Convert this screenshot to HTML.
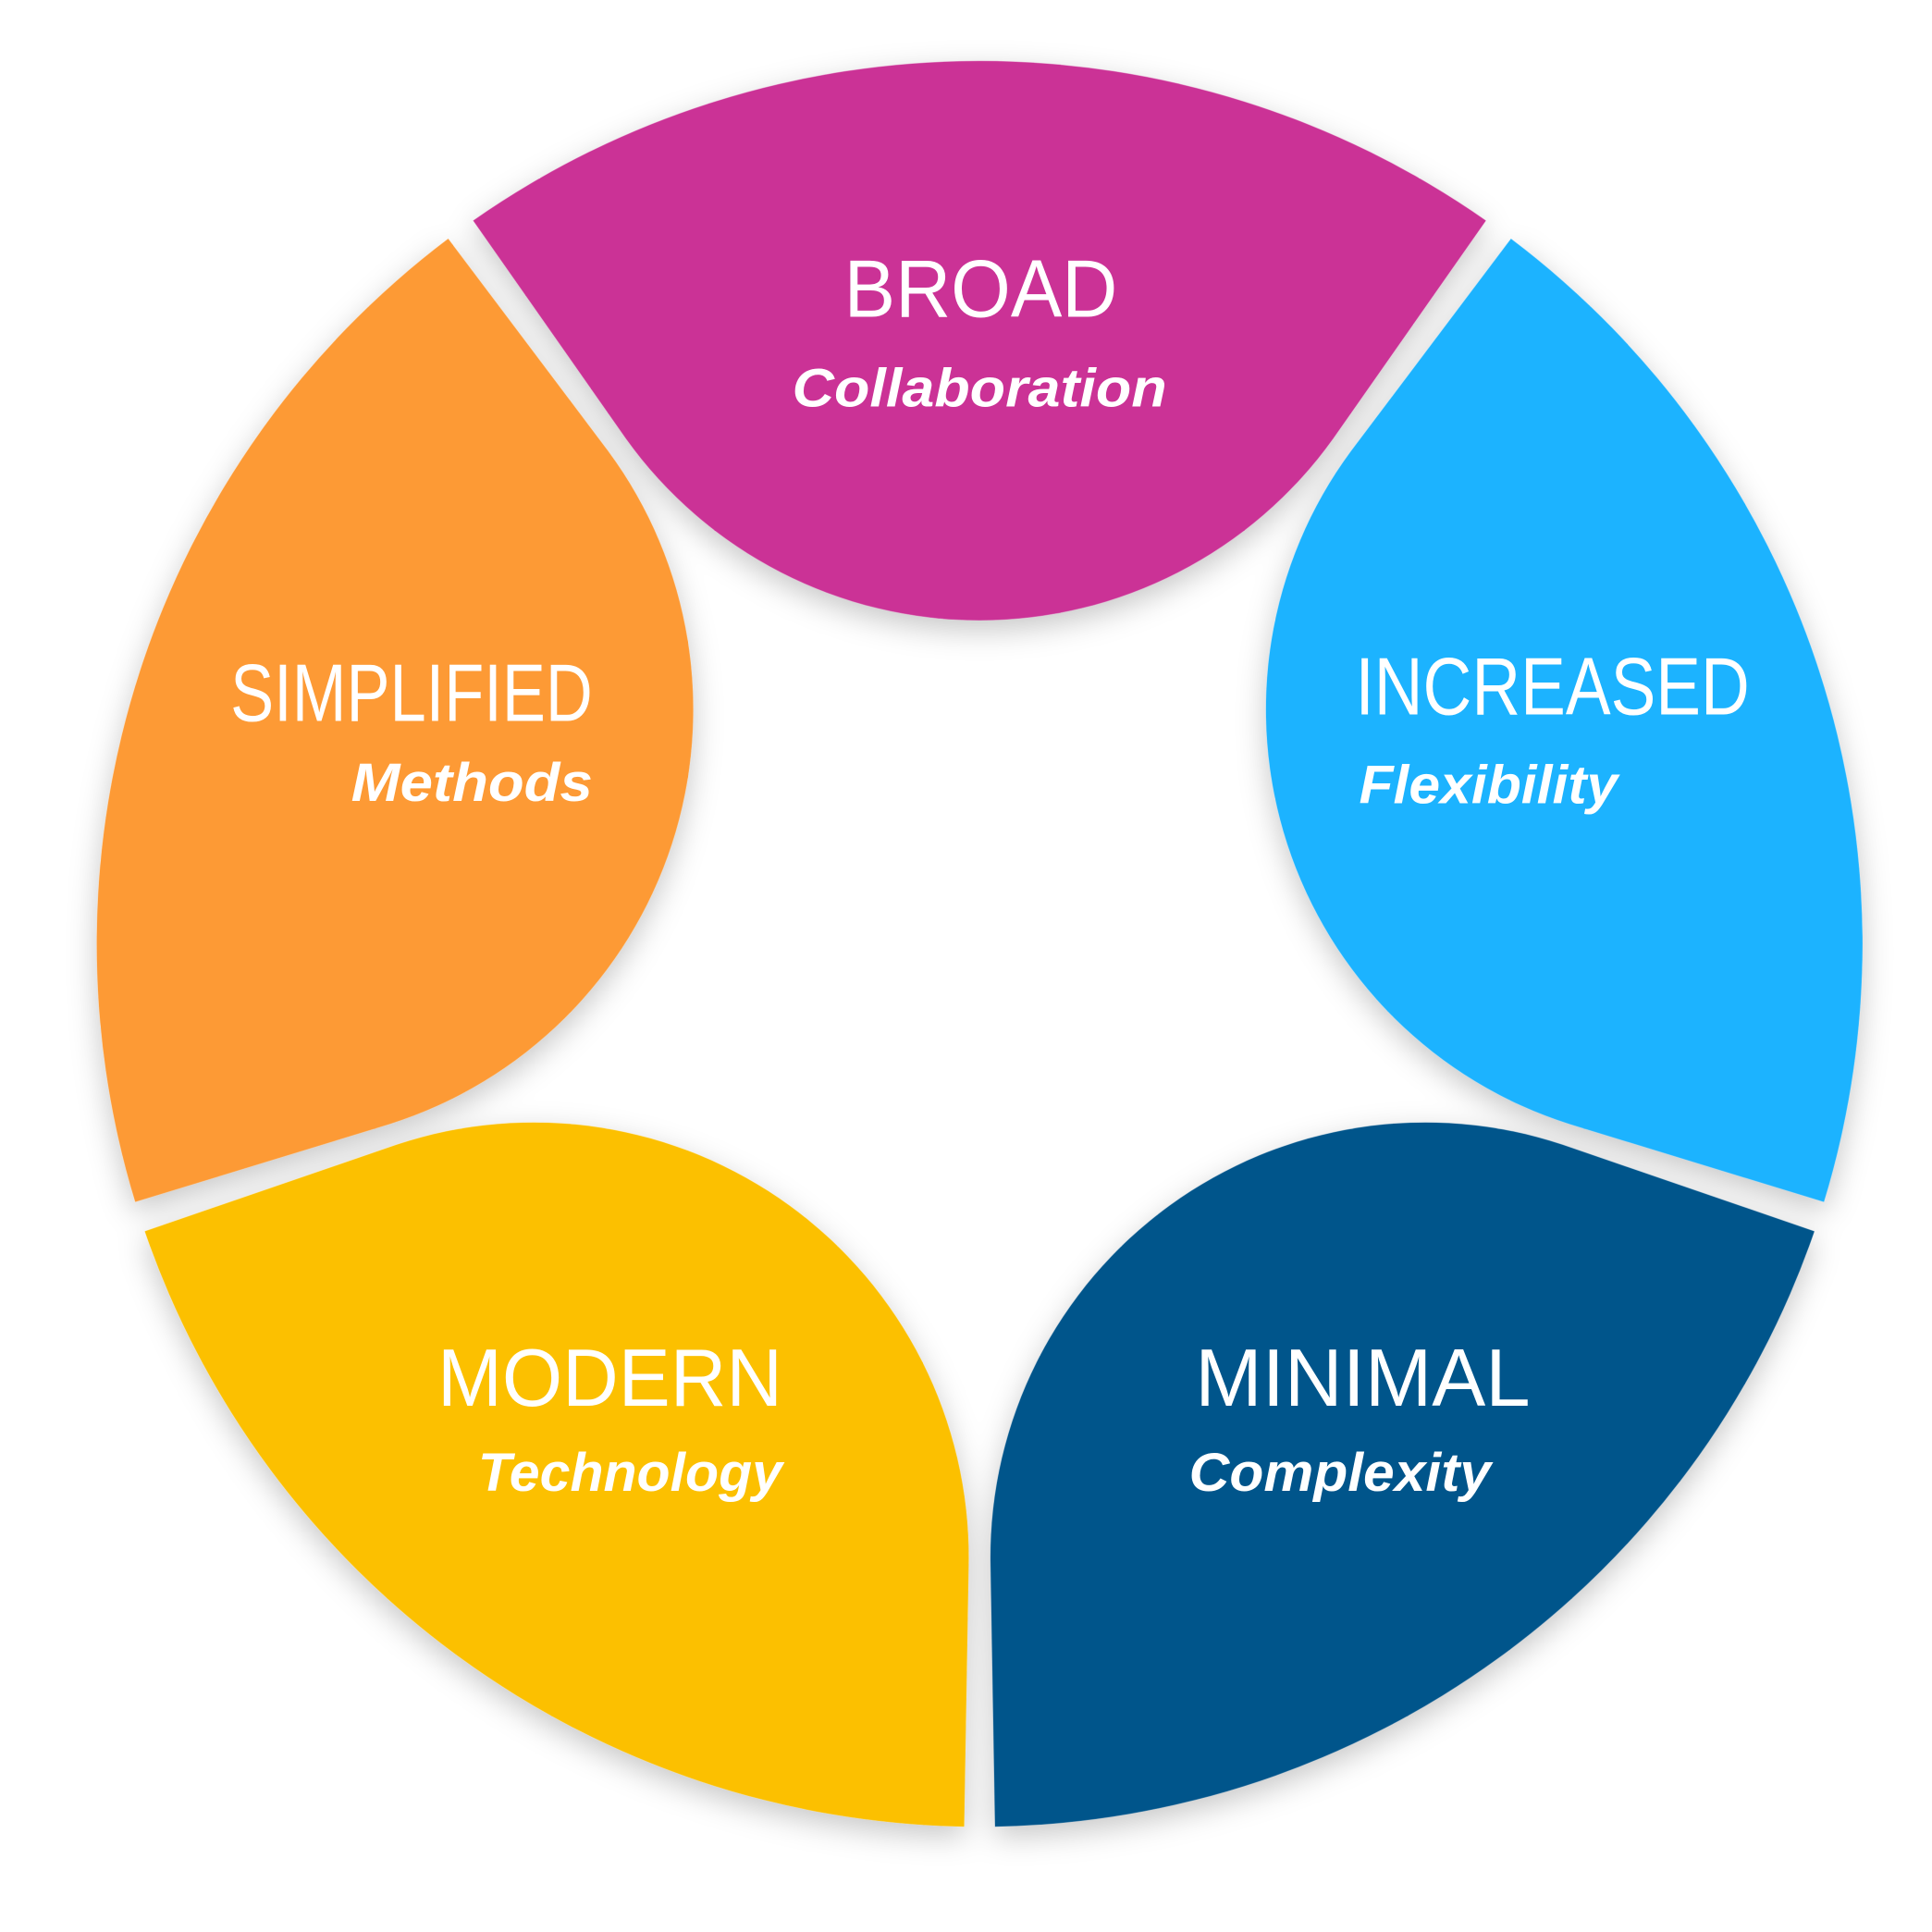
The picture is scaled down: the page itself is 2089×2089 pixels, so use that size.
<!DOCTYPE html>
<html><head><meta charset="utf-8"><style>
html,body{margin:0;padding:0;background:#fff;}
svg{display:block;}
.t{font-family:"Liberation Sans",sans-serif;font-weight:normal;fill:#fff;}
.s{font-family:"Liberation Sans",sans-serif;font-weight:bold;font-style:italic;fill:#fff;}
</style></head><body>
<svg width="2089" height="2089" viewBox="0 0 1568 1568" xmlns="http://www.w3.org/2000/svg">
<defs>
<filter id="sh" x="-20%" y="-20%" width="140%" height="140%">
<feDropShadow dx="0" dy="8" stdDeviation="12" flood-color="#000" flood-opacity="0.22"/>
</filter>
<path id="seg" d="M384,179 A717,717 0 0 1 1206,179 L1082,356 A353,353 0 0 1 508,356 Z"/>
</defs>
<g filter="url(#sh)">
<use href="#seg" fill="#CB3396"/>
<use href="#seg" fill="#1FB3FF" transform="rotate(72 795 766)"/>
<use href="#seg" fill="#00558B" transform="rotate(144 795 766)"/>
<use href="#seg" fill="#FCC000" transform="rotate(216 795 766)"/>
<use href="#seg" fill="#FD9A34" transform="rotate(288 795 766)"/>
</g>
<text class="t" x="685" y="257" font-size="66" textLength="222" lengthAdjust="spacingAndGlyphs">BROAD</text>
<text class="s" x="643" y="330" font-size="44" textLength="304" lengthAdjust="spacingAndGlyphs">Collaboration</text>
<text class="t" x="187" y="585" font-size="66" textLength="294" lengthAdjust="spacingAndGlyphs">SIMPLIFIED</text>
<text class="s" x="285" y="650" font-size="44" textLength="196" lengthAdjust="spacingAndGlyphs">Methods</text>
<text class="t" x="1100" y="580" font-size="66" textLength="320" lengthAdjust="spacingAndGlyphs">INCREASED</text>
<text class="s" x="1103" y="652" font-size="44" textLength="210" lengthAdjust="spacingAndGlyphs">Flexibility</text>
<text class="t" x="355" y="1141" font-size="66" textLength="280" lengthAdjust="spacingAndGlyphs">MODERN</text>
<text class="s" x="388" y="1210" font-size="44" textLength="247" lengthAdjust="spacingAndGlyphs">Technology</text>
<text class="t" x="970" y="1141" font-size="66" textLength="272" lengthAdjust="spacingAndGlyphs">MINIMAL</text>
<text class="s" x="965" y="1210" font-size="44" textLength="245" lengthAdjust="spacingAndGlyphs">Complexity</text>
</svg>
</body></html>
